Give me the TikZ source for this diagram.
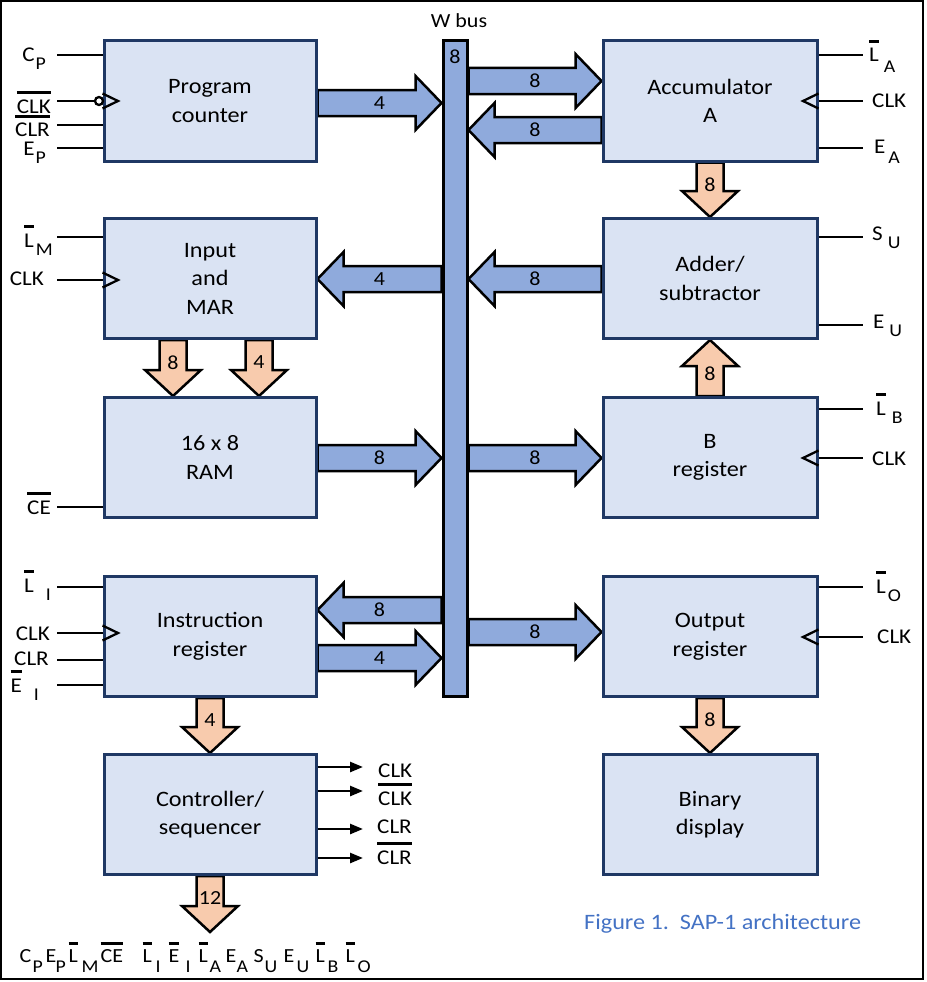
\documentclass[tikz,border=0pt]{standalone}
\usepackage{fontspec}
\setmainfont[FakeStretch=1.1]{Carlito}
\usetikzlibrary{calc,arrows.meta}
\pgfdeclarelayer{bg}
\pgfsetlayers{bg,main}
\definecolor{blk}{HTML}{DAE3F3}
\definecolor{bdr}{HTML}{1F3864}
\definecolor{busc}{HTML}{8FAADC}
\definecolor{orng}{HTML}{F8CBAD}
\definecolor{capc}{HTML}{4472C4}
\newcommand{\ob}[1]{\leavevmode\vbox{\hrule height 2.8pt\kern 5.5pt\hbox{#1}}}
\newcommand{\obs}[1]{\leavevmode\vbox{\hrule height 2.8pt\kern 4.5pt\hbox{#1}}}
\newcommand{\subx}[1]{\raisebox{-8pt}{\fontsize{18}{18}\selectfont #1}}
\newcommand{\subb}[1]{\raisebox{-10pt}{\fontsize{18}{18}\selectfont #1}}
\newcommand{\atx}[2]{\makebox[0pt][l]{\hspace{#1pt}#2}}
% horizontal block arrow: start, tip, head offset, fill, label, name
\newcommand{\harr}[6]{%
 \draw[arrowline, fill=#4] let \p1=#1, \p2=#2 in
 (\x1,{\y2+13pt}) -- ({\x2-(#3pt)},{\y2+13pt}) -- ({\x2-(#3pt)},{\y2+27pt}) -- (\x2,\y2)
 -- ({\x2-(#3pt)},{\y2-27pt}) -- ({\x2-(#3pt)},{\y2-13pt}) -- (\x1,{\y2-13pt}) -- cycle;
 \node[numlbl] (#6) at ($#1!0.5!#2$) {#5};}
% vertical block arrow
\newcommand{\varr}[6]{%
 \draw[arrowline, fill=#4] let \p1=#1, \p2=#2 in
 ({\x2+13.5pt},\y1) -- ({\x2+13.5pt},{\y2+(#3pt)}) -- ({\x2+28pt},{\y2+(#3pt)}) -- (\x2,\y2)
 -- ({\x2-28pt},{\y2+(#3pt)}) -- ({\x2-13.5pt},{\y2+(#3pt)}) -- ({\x2-13.5pt},\y1) -- cycle;
 \node[numlbl] (#6) at ($#1!0.4!#2$) {#5};}
\tikzset{
 blockbox/.style={draw=bdr, line width=3pt, fill=blk, minimum height=120pt, align=center,
   inner sep=0pt, font=\fontsize{22}{28.5}\selectfont},
 lblock/.style={blockbox, minimum width=212pt},
 rblock/.style={blockbox, minimum width=214pt},
 arrowline/.style={draw=black, line width=2.5pt, line join=miter},
 numlbl/.style={font=\fontsize{20}{20}\selectfont, inner sep=0pt},
 sigline/.style={line width=2.5pt},
 siglbl/.style={font=\fontsize{21}{21}\selectfont, inner sep=0pt},
 lsig/.style={siglbl, anchor=base east},
 rsig/.style={siglbl, anchor=base west},
 clktri/.style={line width=2.3pt, line join=miter},
}
\begin{document}
\begin{tikzpicture}[x=1pt,y=-1pt]
\useasboundingbox (0,0) rectangle (926,982);
\draw[line width=2pt] (1,1) rectangle (923,979);

% blocks
\node[lblock] (pc) at (210,101) {Program\\counter};
\node[lblock] (mar) at (210,278.5) {Input\\and\\MAR};
\node[lblock] (ram) at (210,457.5) {16 x 8\\RAM};
\node[lblock] (ir) at (210,636.5) {Instruction\\register};
\node[lblock] (ctrl) at (210,814.5) {Controller/\\sequencer};
\node[rblock] (acc) at (710,101) {Accumulator\\A};
\node[rblock] (add) at (710,278.5) {Adder/\\subtractor};
\node[rblock] (breg) at (710,457.5) {B\\register};
\node[rblock] (outr) at (710,636.5) {Output\\register};
\node[rblock] (disp) at (710,814.5) {Binary\\display};
\node[draw=black, line width=3pt, fill=busc, minimum width=24pt, minimum height=655pt, inner sep=0pt] (bus) at (455,368.5) {};
\node[numlbl] (bus8) at (455,57) {8};
\node[font=\fontsize{20}{20}\selectfont, anchor=base, inner sep=0pt] (wbus) at (459,28) {W bus};

\coordinate (bot) at (210,932);

\begin{pgfonlayer}{bg}
\harr{(pc.east|-0,103)}{(bus.west|-0,103)}{26}{busc}{4}{a1}
\harr{(bus.east|-0,81)}{(acc.west|-0,81)}{26}{busc}{8}{a2}
\harr{(acc.west|-0,130)}{(bus.east|-0,130)}{-26}{busc}{8}{a3}
\harr{(add.west|-0,279)}{(bus.east|-0,279)}{-26}{busc}{8}{a4}
\harr{(bus.west|-0,279)}{(mar.east|-0,279)}{-26}{busc}{4}{a5}
\harr{(ram.east|-0,458)}{(bus.west|-0,458)}{26}{busc}{8}{a6}
\harr{(bus.east|-0,458)}{(breg.west|-0,458)}{26}{busc}{8}{a7}
\harr{(bus.west|-0,610)}{(ir.east|-0,610)}{-26}{busc}{8}{a8}
\harr{(ir.east|-0,658)}{(bus.west|-0,658)}{26}{busc}{4}{a9}
\harr{(bus.east|-0,632)}{(outr.west|-0,632)}{26}{busc}{8}{a10}
\varr{(acc.south)}{(add.north)}{26}{orng}{8}{v1}
\varr{(mar.south-|173,0)}{(ram.north-|173,0)}{26}{orng}{8}{v2}
\varr{(mar.south-|259,0)}{(ram.north-|259,0)}{26}{orng}{4}{v3}
\varr{(breg.north)}{(add.south)}{-26}{orng}{8}{v4}
\varr{(outr.south)}{(disp.north)}{26}{orng}{8}{v5}
\varr{(ir.south)}{(ctrl.north)}{26}{orng}{4}{v6}
\varr{(ctrl.south)}{(bot)}{26}{orng}{12}{v7}
\end{pgfonlayer}

% left control signals
\draw[sigline] (57,55) -- (pc.west|-0,55);
\draw[sigline] (57,101) -- (95,101);
\draw[line width=2.3pt, fill=white] (99,101) circle (4);
\draw[sigline] (57,125) -- (pc.west|-0,125);
\draw[sigline] (57,148) -- (pc.west|-0,148);
\draw[clktri] (pc.west|-0,93.5) -- (118,101) -- (pc.west|-0,108.5);
\node[lsig] (lcp) at (46,62) {C\hspace{1pt}\subx{P}};
\node[lsig] (lclkb) at (51,113) {\ob{CLK}};
\node[lsig] (lclrb) at (50,136) {\obs{CLR}};
\node[lsig] (lep) at (46,155) {E\hspace{1pt}\subx{P}};

\draw[sigline] (57,237) -- (mar.west|-0,237);
\draw[sigline] (57,280) -- (mar.west|-0,280);
\draw[clktri] (mar.west|-0,272.5) -- (118,280) -- (mar.west|-0,287.5);
\node[lsig] (llm) at (53,247) {\ob{L}\hspace{2pt}\subx{M}};
\node[lsig] (lclkm) at (44,285) {CLK};

\draw[sigline] (57,507) -- (ram.west|-0,507);
\node[lsig] (lce) at (51,514) {\ob{CE}};

\draw[sigline] (57,587) -- (ir.west|-0,587);
\draw[sigline] (57,633) -- (ir.west|-0,633);
\draw[sigline] (57,660) -- (ir.west|-0,660);
\draw[sigline] (57,685) -- (ir.west|-0,685);
\draw[clktri] (ir.west|-0,625.5) -- (118,633) -- (ir.west|-0,640.5);
\node[lsig] (lli) at (51,592) {\ob{L}\hspace{12pt}\subx{I}};
\node[lsig] (lclki) at (50,640) {CLK};
\node[lsig] (lclr) at (49,665) {CLR};
\node[lsig] (lei) at (39,692) {\ob{E}\hspace{12pt}\subx{I}};

% right control signals
\draw[sigline] (acc.east|-0,55) -- (863,55);
\draw[sigline] (acc.east|-0,101) -- (863,101);
\draw[sigline] (acc.east|-0,148) -- (863,148);
\draw[clktri] (acc.east|-0,93.5) -- (803,101) -- (acc.east|-0,108.5);
\node[rsig] (rla) at (869,62) {\ob{L}\hspace{5pt}\subb{A}};
\node[rsig] (rclka) at (872,107) {CLK};
\node[rsig] (rea) at (874,153) {E\hspace{3pt}\subb{A}};

\draw[sigline] (add.east|-0,237) -- (863,237);
\draw[sigline] (add.east|-0,325) -- (863,325);
\node[rsig] (rsu) at (872,240) {S\hspace{5pt}\subx{U}};
\node[rsig] (reu) at (873,328) {E\hspace{5pt}\subx{U}};

\draw[sigline] (breg.east|-0,409) -- (863,409);
\draw[sigline] (breg.east|-0,458) -- (863,458);
\draw[clktri] (breg.east|-0,450.5) -- (803,458) -- (breg.east|-0,465.5);
\node[rsig] (rlb) at (876,415) {\ob{L}\hspace{6pt}\subx{B}};
\node[rsig] (rclkb) at (872,465) {CLK};

\draw[sigline] (outr.east|-0,587) -- (863,587);
\draw[sigline] (outr.east|-0,637) -- (863,637);
\draw[clktri] (outr.east|-0,629.5) -- (803,637) -- (outr.east|-0,644.5);
\node[rsig] (rlo) at (876,593) {\ob{L}\hspace{2pt}\subx{O}};
\node[rsig] (rclko) at (877,643) {CLK};

% controller outputs
\coordinate (t1) at (363,767);
\coordinate (t2) at (363,791);
\coordinate (t3) at (363,829);
\coordinate (t4) at (363,858);
\foreach \t in {t1,t2,t3,t4}
  \draw[sigline,-{Triangle[length=13pt,width=10pt]}] (ctrl.east|-\t) -- (\t);
\node[rsig] (o1) at (378,777) {CLK};
\node[rsig] (o2) at (378,805) {\ob{CLK}};
\node[rsig] (o3) at (377,833) {CLR};
\node[rsig] (o4) at (377,864) {\ob{CLR}};

% bottom control word
\node[anchor=base west, inner sep=0pt, font=\fontsize{20}{20}\selectfont] (cword) at (19,962)
 {\atx{0}{C}\atx{13}{\subb{P}}\atx{26}{E}\atx{36}{\subb{P}}\atx{49}{\obs{L}}\atx{62}{\subb{M}}%
  \atx{81}{\obs{CE}}\atx{123}{\obs{L}}\atx{136}{\subb{I}}\atx{149}{\obs{E}}\atx{166}{\subb{I}}%
  \atx{179}{\obs{L}}\atx{190}{\subb{A}}\atx{206}{E}\atx{217}{\subb{A}}\atx{234}{S}\atx{245}{\subb{U}}%
  \atx{264}{E}\atx{277}{\subb{U}}\atx{296}{\obs{L}}\atx{308}{\subb{B}}\atx{326}{\obs{L}}\atx{338}{\subb{O}}%
  \hspace{358pt}};

% caption
\node[anchor=base west, inner sep=0pt, text=capc, font=\fontsize{22}{22}\selectfont] (cap) at (584,929) {Figure 1.\ \ SAP-1 architecture};
\end{tikzpicture}
\end{document}
